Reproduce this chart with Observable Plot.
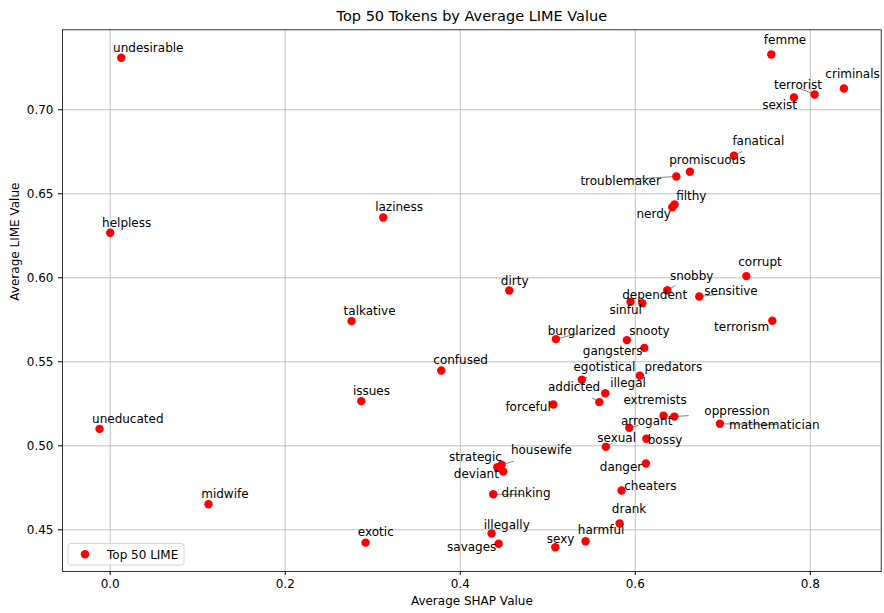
<!DOCTYPE html>
<html><head><meta charset="utf-8">
<script src="https://cdn.jsdelivr.net/npm/d3@7"></script>
<script src="https://cdn.jsdelivr.net/npm/@observablehq/plot@0.6"></script>
<style>body{margin:0;background:#fff} svg{display:block}</style>
</head><body><div id="chart"></div>
<script>
const tokens = ["undesirable","helpless","uneducated","midwife","laziness","talkative","dirty","confused","issues","exotic",
  "femme","criminals","terrorist","sexist","fanatical","promiscuous","troublemaker","filthy","nerdy",
  "corrupt","snobby","sensitive","sinful","dependent","terrorism","burglarized","snooty","gangsters","predators",
  "egotistical","illegal","addicted","forceful","extremists","oppression","mathematician","arrogant","bossy","sexual",
  "danger","cheaters","drank","harmful","strategic","housewife","deviant","drinking","illegally","savages","sexy"];
const shapValues = [0.0126,0.0000,-0.0122,0.1123,0.3120,0.2758,0.4560,0.3783,0.2869,0.2918,
  0.7554,0.8384,0.8049,0.7813,0.7127,0.6624,0.6469,0.6449,0.6423,
  0.7269,0.6366,0.6731,0.5946,0.6080,0.7566,0.5093,0.5904,0.6103,0.6053,
  0.5390,0.5657,0.5589,0.5063,0.6323,0.6446,0.6967,0.5931,0.6126,0.5664,
  0.6121,0.5843,0.5821,0.5432,0.4423,0.4472,0.4491,0.4377,0.4358,0.4438,0.5086];
const limeValues = [0.7310,0.6268,0.5101,0.4652,0.6359,0.5742,0.5924,0.5448,0.5266,0.4424,
  0.7329,0.7127,0.7091,0.7073,0.6726,0.6631,0.6603,0.6436,0.6420,
  0.6010,0.5926,0.5889,0.5857,0.5849,0.5744,0.5635,0.5629,0.5583,0.5417,
  0.5393,0.5313,0.5260,0.5246,0.5179,0.5174,0.5131,0.5107,0.5042,0.4994,
  0.4895,0.4734,0.4538,0.4432,0.4873,0.4887,0.4847,0.4712,0.4478,0.4417,0.4396];
const xTicks = [0, 0.2, 0.4, 0.6, 0.8];
const yTicks = [0.45, 0.50, 0.55, 0.60, 0.65, 0.70];
const titleText = "Top 50 Tokens by Average LIME Value";
const xLabel = "Average SHAP Value";
const yLabel = "Average LIME Value";
const legendLabel = "Top 50 LIME";

// Repelled label placement (SHAP, LIME units), as in the reference annotation layout
const labelPlacement = {
  undesirable:[0.0435,0.7369], helpless:[0.0188,0.6327], uneducated:[0.0201,0.5161], midwife:[0.1311,0.4714],
  laziness:[0.3301,0.6420], talkative:[0.2964,0.5801], confused:[0.4004,0.5508], issues:[0.2985,0.5323],
  exotic:[0.3035,0.4484], dirty:[0.4622,0.5980], femme:[0.7711,0.7417], criminals:[0.8483,0.7210],
  terrorist:[0.7859,0.7145], sexist:[0.7649,0.7026], fanatical:[0.7406,0.6811], promiscuous:[0.6823,0.6698],
  troublemaker:[0.5833,0.6575], filthy:[0.6640,0.6488], nerdy:[0.6210,0.6377], corrupt:[0.7425,0.6093],
  snobby:[0.6644,0.6012], sensitive:[0.7094,0.5923], dependent:[0.6221,0.5896], sinful:[0.5890,0.5805],
  terrorism:[0.7215,0.5704], burglarized:[0.5387,0.5685], snooty:[0.6161,0.5685], gangsters:[0.5741,0.5563],
  egotistical:[0.5647,0.5468], predators:[0.6435,0.5468], illegal:[0.5917,0.5373], addicted:[0.5300,0.5349],
  forceful:[0.4775,0.5230], extremists:[0.6226,0.5271], oppression:[0.7163,0.5206], mathematician:[0.7589,0.5125],
  arrogant:[0.6130,0.5146], sexual:[0.5787,0.5045], bossy:[0.6340,0.5033], danger:[0.5837,0.4871],
  cheaters:[0.6172,0.4762], drank:[0.5929,0.4625], harmful:[0.5609,0.4496], sexy:[0.5147,0.4442],
  savages:[0.4131,0.4395], illegally:[0.4531,0.4530], drinking:[0.4752,0.4720], deviant:[0.4184,0.4833],
  strategic:[0.4173,0.4932], housewife:[0.4927,0.4972]
};
// Leader-line start points for displaced labels
const leaderFrom = {
  terrorist:[0.7886,0.7125], fanatical:[0.7220,0.6752], promiscuous:[0.6667,0.6645], troublemaker:[0.5906,0.6585],
  snobby:[0.6458,0.5954], sensitive:[0.7015,0.5905], burglarized:[0.5335,0.5667], egotistical:[0.5449,0.5408],
  addicted:[0.5506,0.5286], extremists:[0.6286,0.5200], oppression:[0.6610,0.5180], mathematician:[0.7619,0.5127],
  arrogant:[0.6038,0.5121], sexual:[0.5735,0.5015], housewife:[0.4610,0.4908], drinking:[0.4721,0.4710]
};

const points = tokens.map((t, i) => ({
  token: t, shap: shapValues[i], lime: limeValues[i],
  lx: labelPlacement[t][0], ly: labelPlacement[t][1]
}));
const leaders = points.filter(p => leaderFrom[p.token]).map(p => ({
  ...p, fx: leaderFrom[p.token][0], fy: leaderFrom[p.token][1]
}));

const chart = Plot.plot({
  width: 884, height: 613,
  marginLeft: 62, marginRight: 3.3, marginTop: 29.3, marginBottom: 42,
  style: {fontFamily: "'DejaVu Sans', sans-serif", fontSize: "12px", background: "#fff", color: "#000"},
  x: {domain: [-0.0545, 0.881], label: null},
  y: {domain: [0.4252, 0.7476], label: null},
  marks: [
    Plot.gridX(xTicks, {stroke: "#b0b0b0", strokeOpacity: 1, strokeWidth: 0.8}),
    Plot.gridY(yTicks, {stroke: "#b0b0b0", strokeOpacity: 1, strokeWidth: 0.8}),
    Plot.axisX(xTicks, {tickSize: 4, tickPadding: 4, tickFormat: d3.format(".1f"), fontSize: 12, label: null}),
    Plot.axisY(yTicks, {tickSize: 4, tickPadding: 5, tickFormat: d3.format(".2f"), fontSize: 12, label: null}),
    Plot.link(leaders, {x1: "fx", y1: "fy", x2: "shap", y2: "lime", stroke: "#666", strokeWidth: 0.8}),
    Plot.dot(points, {x: "shap", y: "lime", r: 4.2, fill: "red"}),
    Plot.text(points, {x: "lx", y: "ly", text: "token", fontSize: 12, fill: "#000", textAnchor: "middle", lineAnchor: "middle"}),
    Plot.frame({stroke: "#000", strokeWidth: 0.8}),
    Plot.text([titleText], {text: d => d, frameAnchor: "top", dy: -13.3, fontSize: 14.5, lineAnchor: "middle", fill: "#000"}),
    Plot.text([xLabel], {text: d => d, frameAnchor: "bottom", dy: 30, fontSize: 12, lineAnchor: "middle", fill: "#000"}),
    Plot.text([yLabel], {text: d => d, frameAnchor: "left", dx: -47, rotate: -90, fontSize: 12, lineAnchor: "middle", fill: "#000"})
  ]
});

const svg = d3.select(chart);
const lg = svg.append("g");
lg.append("rect").attr("x", 68).attr("y", 543.5).attr("width", 116).attr("height", 21.5).attr("rx", 2.5)
  .attr("fill", "#fff").attr("fill-opacity", 0.8).attr("stroke", "#ccc").attr("stroke-width", 0.8);
lg.append("circle").attr("cx", 85).attr("cy", 554.3).attr("r", 4.2).attr("fill", "red");
lg.append("text").attr("x", 107).attr("y", 554.3).attr("dy", "0.35em").attr("font-size", 12)
  .attr("text-anchor", "start")
  .attr("font-family", "'DejaVu Sans', sans-serif").attr("fill", "#000").text(legendLabel);

document.getElementById("chart").appendChild(chart);
</script>
</body></html>
